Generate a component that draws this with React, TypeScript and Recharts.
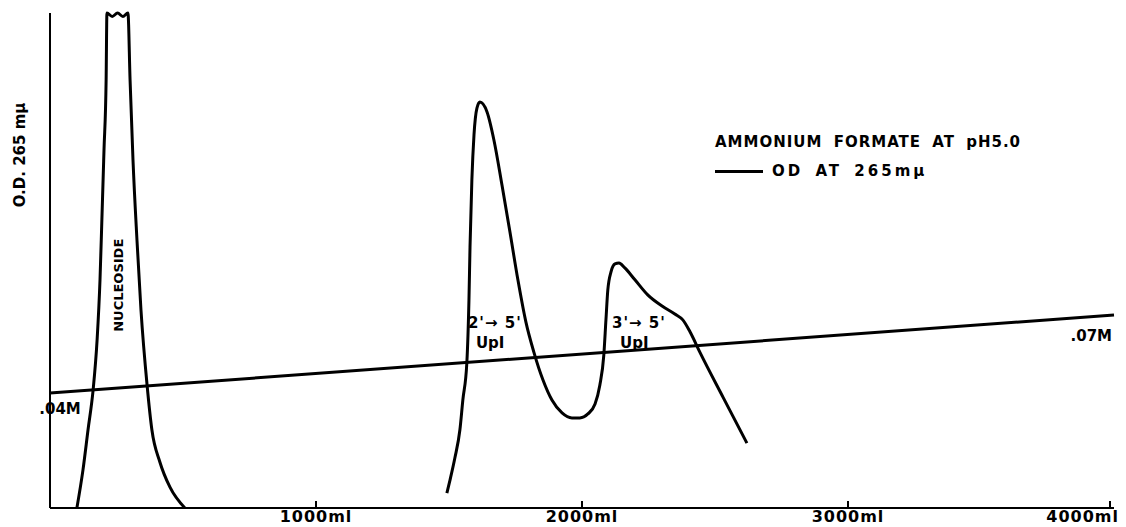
import { LineChart, Line, XAxis, YAxis, ReferenceDot, Legend, LabelList } from 'recharts';

// effluent volume (ml) and optical density
const volumeMl = [
  101, 124, 143, 162, 177, 188, 195, 203, 211, 214, 234, 254, 274, 293, 301, 312, 327, 342, 365, 383, 413, 451, 507,
  1000,
  1492, 1504, 1522, 1541, 1552, 1567, 1575, 1579, 1586, 1594, 1605, 1616, 1643, 1669, 1699, 1729, 1759, 1789, 1819,
  1853, 1887, 1925, 1962, 1992, 2022, 2049, 2067, 2082, 2090, 2097, 2109, 2124, 2139, 2161, 2199, 2248, 2301, 2349,
  2379, 2406, 2443, 2530, 2620,
];
const odAt265 = [
  0, 7.7, 15.8, 23.8, 33.9, 46.1, 58.2, 72.3, 86.5, 100, 99.3, 100, 99.3, 100, 86.5, 70.3, 54.1, 40, 24.8, 15.8, 9.3, 4.2, 0,
  null,
  3.0, 5.7, 10.1, 15.8, 21.8, 29.3, 42.0, 52.7, 66.3, 75.4, 80.8, 82.0, 80.0, 74.3, 65.3, 55.8, 46.1, 37.6, 31.5,
  25.9, 21.8, 19.2, 18.2, 18.2, 19.0, 21.0, 24.8, 30.9, 38.0, 44.0, 47.7, 49.3, 49.5, 48.5, 46.1, 43.0, 40.8, 39.2,
  38.0, 35.6, 31.5, 22.4, 13.1,
];

// ammonium formate gradient
const gradientMl = [0, 4000];
const gradientMolarity = [0.04, 0.07];
const gradientLabels = ['.04M', '.07M'];

const xTicks = [1000, 2000, 3000, 4000];

// peak annotations
const noteMl = [1571, 2113];
const noteOd = [37.6, 37.6];
const noteText = ["2'\u2192 5'", "3'\u2192 5'"];
const noteSub = ['UpI', 'UpI'];
const nucleosideMl = 256;
const nucleosideOd = 45;

const FONT = '"DejaVu Sans", Verdana, sans-serif';

const odData = volumeMl.map((ml, i) => ({ ml, od: odAt265[i] }));
const gradientData = gradientMl.map((ml, i) => ({ ml, m: gradientMolarity[i] }));

function MlTick(props: any) {
  const { x, y, payload } = props;
  const last = payload.value === xTicks[xTicks.length - 1];
  return (
    <g>
      <line x1={x} x2={x} y1={y - 7} y2={y} stroke="#000" strokeWidth={2} />
      <text
        x={last ? x + 9 : x}
        y={y + 14}
        textAnchor={last ? 'end' : 'middle'}
        fontFamily={FONT}
        fontWeight="bold"
        fontSize={16}
        letterSpacing={1}
        fill="#000"
      >
        {payload.value}ml
      </text>
    </g>
  );
}

function GradientLabel(props: any) {
  const { x, y, index } = props;
  const first = index === 0;
  return (
    <text
      x={first ? x + 10 : x - 2}
      y={first ? y + 21 : y + 26}
      textAnchor={first ? 'middle' : 'end'}
      fontFamily={FONT}
      fontWeight="bold"
      fontSize={15}
      fill="#000"
    >
      {gradientLabels[index]}
    </text>
  );
}

function LegendBox() {
  const txt = { fontFamily: FONT, fontWeight: 'bold' as const, fontSize: 15, letterSpacing: 1, wordSpacing: 5, color: '#000', lineHeight: '18px', whiteSpace: 'nowrap' as const };
  return (
    <div>
      <div style={txt}>AMMONIUM FORMATE AT pH5.0</div>
      <div style={{ ...txt, letterSpacing: 3, wordSpacing: 4, marginTop: 11, display: 'flex', alignItems: 'center' }}>
        <span style={{ display: 'inline-block', width: 48, height: 3, background: '#000', marginRight: 9, marginTop: 1 }} />
        <span>OD AT 265m&mu;</span>
      </div>
    </div>
  );
}

export default function App() {
  return (
    <div style={{ position: 'absolute', left: 0, top: 0, background: '#fff' }}>
      <LineChart width={1126} height={527} data={odData} margin={{ top: 13, right: 12, bottom: 0, left: 0 }}>
        <XAxis
          dataKey="ml"
          type="number"
          domain={[0, 4000]}
          ticks={xTicks}
          height={19}
          tickSize={0}
          tickMargin={0}
          tickLine={false}
          tick={<MlTick />}
          axisLine={{ stroke: '#000', strokeWidth: 2 }}
        />
        <YAxis
          yAxisId="od"
          domain={[0, 100]}
          width={50}
          tick={false}
          tickLine={false}
          axisLine={{ stroke: '#000', strokeWidth: 2 }}
          label={{
            content: (p: any) => (
              <text
                transform={`translate(${p.viewBox.x + 20},155) rotate(-90)`}
                textAnchor="middle"
                dominantBaseline="central"
                fontFamily={FONT}
                fontWeight="bold"
                fontSize={15}
                fill="#000"
              >
                O.D. 265 m&mu;
              </text>
            ),
          }}
        />
        <YAxis yAxisId="m" orientation="right" domain={[-0.0042, 0.1861]} hide />
        <Legend
          layout="horizontal"
          verticalAlign="middle"
          wrapperStyle={{ left: 715, top: 133, width: 'auto' }}
          content={() => <LegendBox />}
        />
        <Line
          yAxisId="od"
          dataKey="od"
          type="monotone"
          stroke="#000"
          strokeWidth={3}
          dot={false}
          connectNulls={false}
          isAnimationActive={false}
        />
        <Line
          yAxisId="m"
          data={gradientData}
          dataKey="m"
          type="linear"
          stroke="#000"
          strokeWidth={3}
          dot={false}
          isAnimationActive={false}
        >
          <LabelList dataKey="m" content={<GradientLabel />} />
        </Line>
        <ReferenceDot
          yAxisId="od"
          x={nucleosideMl}
          y={nucleosideOd}
          shape={(p: any) => (
            <text
              transform={`translate(${p.cx},${p.cy}) rotate(-90)`}
              textAnchor="middle"
              dominantBaseline="central"
              fontFamily={FONT}
              fontWeight="bold"
              fontSize={13}
              fill="#000"
            >
              NUCLEOSIDE
            </text>
          )}
        />
        {noteMl.map((ml, i) => (
          <ReferenceDot
            key={i}
            yAxisId="od"
            x={ml}
            y={noteOd[i]}
            shape={(p: any) => (
              <g fontFamily={FONT} fontWeight="bold" fontSize={15} fill="#000">
                <text x={p.cx} y={p.cy + 6} letterSpacing={1}>{noteText[i]}</text>
                <text x={p.cx + 8} y={p.cy + 26}>{noteSub[i]}</text>
              </g>
            )}
          />
        ))}
      </LineChart>
    </div>
  );
}
